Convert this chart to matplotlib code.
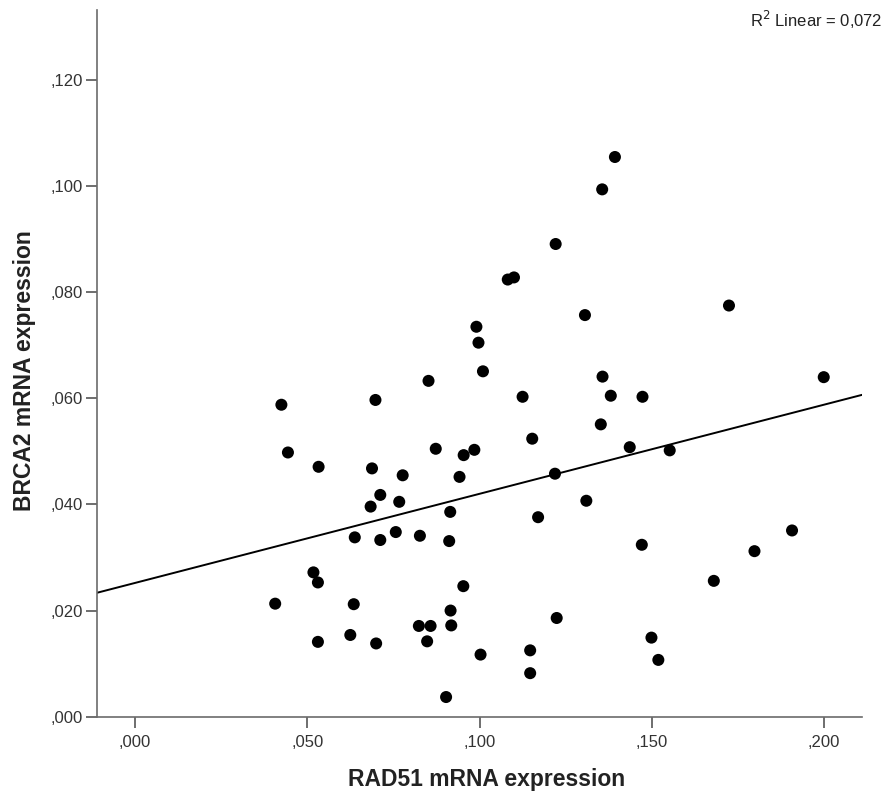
import numpy as np
import matplotlib
matplotlib.use('Agg')
from matplotlib import pyplot as plt

plt.rcParams['font.family'] = ['Liberation Sans', 'DejaVu Sans']

# RAD51 vs BRCA2 mRNA expression
rad51 = [0.0407, 0.0425, 0.0444, 0.0518, 0.0531, 0.0533, 0.0531, 0.0635, 0.0625, 0.0638,
         0.0684, 0.0688, 0.0698, 0.0700, 0.0712, 0.0712, 0.0757, 0.0767, 0.0777, 0.0824,
         0.0827, 0.0852, 0.0858, 0.0848, 0.0873, 0.0903, 0.0912, 0.0915, 0.0916, 0.0918,
         0.0942, 0.0953, 0.0954, 0.0985, 0.0991, 0.0997, 0.1003, 0.1010, 0.1082, 0.1100,
         0.1125, 0.1147, 0.1147, 0.1153, 0.1170, 0.1219, 0.1221, 0.1224, 0.1306, 0.1310,
         0.1352, 0.1356, 0.1357, 0.1381, 0.1393, 0.1436, 0.1471, 0.1473, 0.1499, 0.1519,
         0.1552, 0.1680, 0.1724, 0.1798, 0.1907, 0.1999]
brca2 = [0.0213, 0.0588, 0.0498, 0.0272, 0.0253, 0.0471, 0.0141, 0.0212, 0.0154, 0.0338,
         0.0396, 0.0468, 0.0597, 0.0138, 0.0418, 0.0333, 0.0348, 0.0405, 0.0455, 0.0171,
         0.0341, 0.0633, 0.0171, 0.0142, 0.0505, 0.0037, 0.0331, 0.0386, 0.0200, 0.0172,
         0.0452, 0.0246, 0.0493, 0.0503, 0.0735, 0.0705, 0.0117, 0.0651, 0.0824, 0.0828,
         0.0603, 0.0125, 0.0082, 0.0524, 0.0376, 0.0458, 0.0891, 0.0186, 0.0757, 0.0407,
         0.0551, 0.0994, 0.0641, 0.0605, 0.1055, 0.0508, 0.0324, 0.0603, 0.0149, 0.0107,
         0.0502, 0.0256, 0.0775, 0.0312, 0.0351, 0.0640]

x_ticks = [0.0, 0.05, 0.10, 0.15, 0.20]
x_ticklabels = [',000', ',050', ',100', ',150', ',200']
y_ticks = [0.0, 0.02, 0.04, 0.06, 0.08, 0.10, 0.12]
y_ticklabels = [',000', ',020', ',040', ',060', ',080', ',100', ',120']

x = np.array(rad51)
y = np.array(brca2)

# linear fit
slope, intercept = np.polyfit(x, y, 1)

fig = plt.figure(figsize=(8.88, 7.94), dpi=100)
ax = fig.add_axes([0.1089, 0.0974, 0.8618, 0.8906])

xmin, xmax = -0.0111, 0.2110
ax.scatter(x, y, s=75, color='black', edgecolors='none', zorder=3)
xl = np.array([xmin, xmax])
ax.plot(xl, intercept + slope * xl, color='black', lw=1.4, zorder=2)

ax.set_xlim(xmin, xmax)
ax.set_ylim(0, 0.1333)
ax.set_xticks(x_ticks)
ax.set_xticklabels(x_ticklabels)
ax.set_yticks(y_ticks)
ax.set_yticklabels(y_ticklabels)

for s in ['top', 'right']:
    ax.spines[s].set_visible(False)
for s in ['left', 'bottom']:
    ax.spines[s].set_color('#6b6b6b')
    ax.spines[s].set_linewidth(1.2)

ax.tick_params(axis='both', direction='out', length=8, width=1.2, color='#555555',
               labelsize=12, labelcolor='#333333')
ax.tick_params(axis='x', pad=5)
ax.tick_params(axis='y', pad=2)

ax.set_xlabel('RAD51 mRNA expression', fontsize=16.5, fontweight='bold', color='#222222')
ax.set_ylabel('BRCA2 mRNA expression', fontsize=16.5, fontweight='bold', color='#222222')
ax.xaxis.set_label_coords(0.509, -0.072)
ax.yaxis.set_label_coords(-0.079, 0.49)

fig.text(0.994, 0.975, 'R$^2$ Linear = 0,072', ha='right', va='center', fontsize=12, color='#222222')

fig.savefig('out.png', dpi=100)
